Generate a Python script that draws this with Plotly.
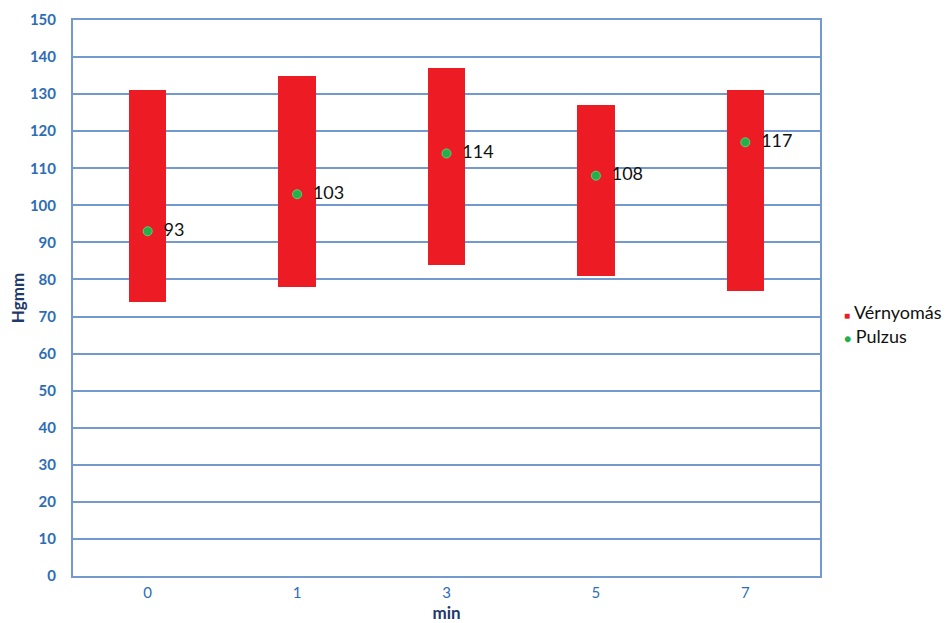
import plotly.graph_objects as go

categories = ["0", "1", "3", "5", "7"]
bp_low = [74, 78, 84, 81, 77]
bp_high = [131, 135, 137, 127, 131]
pulse = [93, 103, 114, 108, 117]
y_ticks = list(range(0, 151, 10))
legend_names = ["Vérnyomás", "Pulzus"]

tick_blue = "#2E6DB4"
grid_blue = "#7399CF"
title_navy = "#1F3A6A"
bar_red = "#ED1C24"
dot_green = "#22B04C"
font_fam = "Lato, 'Open Sans', sans-serif"

fig = go.Figure()
fig.add_trace(go.Bar(
    x=categories,
    base=bp_low,
    y=[h - l for h, l in zip(bp_high, bp_low)],
    width=0.25,
    marker=dict(color=bar_red, line=dict(width=0)),
    name=legend_names[0],
    hoverinfo="skip",
    showlegend=False,
))
fig.add_trace(go.Scatter(
    x=categories,
    y=pulse,
    mode="markers+text",
    marker=dict(color=dot_green, size=9, line=dict(color="#5FCF7A", width=1)),
    text=["  " + str(v) for v in pulse],
    textposition="middle right",
    textfont=dict(family=font_fam, size=18, color="#111111"),
    name=legend_names[1],
    cliponaxis=False,
    showlegend=False,
))

# legend drawn as annotations (compact, like the reference)
legend_syms = [
    f'<span style="font-size:10px;color:{bar_red}">■</span>',
    f'<span style="font-size:12px;color:{dot_green}">●</span>',
]
for i, (sym, nm) in enumerate(zip(legend_syms, legend_names)):
    fig.add_annotation(
        xref="paper", yref="paper",
        x=1.0295, y=0.4748 - i * 0.0432,
        xanchor="left", yanchor="middle",
        text=f"{sym} {nm}",
        showarrow=False,
        font=dict(family=font_fam, size=18, color="#111111"),
    )

fig.update_layout(
    width=951, height=623,
    margin=dict(l=73, r=131, t=20, b=47, autoexpand=False),
    plot_bgcolor="white",
    paper_bgcolor="white",
    font=dict(family=font_fam),
    showlegend=False,
    bargap=0,
)
fig.update_xaxes(
    type="category",
    showgrid=False,
    showline=True, linecolor=grid_blue, linewidth=2, mirror=True,
    ticks="outside", ticklen=2, tickcolor="rgba(0,0,0,0)",
    tickfont=dict(family=font_fam, size=15, color=tick_blue),
    title=dict(text="<b>min</b>", font=dict(family=font_fam, size=17, color=title_navy), standoff=7),
)
fig.update_yaxes(
    range=[0, 150],
    tickvals=y_ticks,
    ticktext=[f"<b>{v}</b>" for v in y_ticks],
    showgrid=True, gridcolor=grid_blue, gridwidth=1.5,
    showline=True, linecolor=grid_blue, linewidth=2, mirror=True,
    zeroline=False,
    ticks="outside", ticklen=12, tickcolor="rgba(0,0,0,0)",
    tickfont=dict(family=font_fam, size=15, color=tick_blue),
    title=dict(text="<b>Hgmm</b>", font=dict(family=font_fam, size=17, color=title_navy), standoff=1),
)

fig.write_html("out.html")
